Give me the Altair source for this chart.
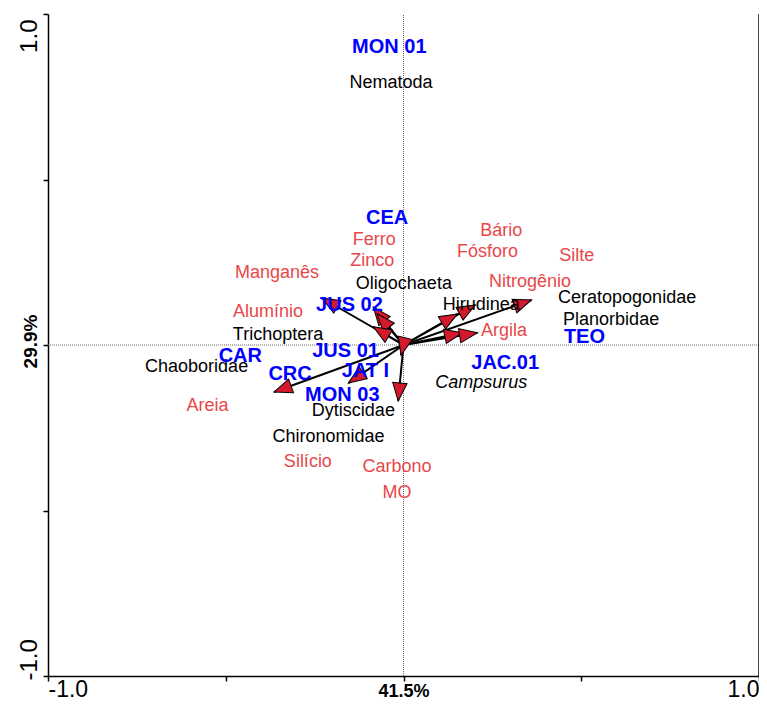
import altair as alt
import pandas as pd
import numpy as np

FONT = "Liberation Sans"

# Sites (blue)
site_names = ["MON 01", "CEA", "JUS 02", "JUS 01", "CAR", "CRC", "JAT I", "MON 03", "JAC.01", "TEO"]
site_x = [-0.040, -0.046, -0.152, -0.163, -0.459, -0.319, -0.107, -0.172, 0.286, 0.509]
site_y = [0.901, 0.385, 0.121, -0.019, -0.034, -0.088, -0.079, -0.151, -0.055, 0.025]

# Species (black)
species_names = ["Nematoda", "Oligochaeta", "Hirudinea", "Ceratopogonidae", "Planorbidae",
                 "Trichoptera", "Chaoboridae", "Dytiscidae", "Chironomidae"]
species_x = [-0.035, 0.001, 0.219, 0.629, 0.584, -0.353, -0.582, -0.141, -0.211]
species_y = [0.791, 0.184, 0.121, 0.142, 0.076, 0.031, -0.067, -0.199, -0.279]

italic_names = ["Campsurus"]
italic_x = [0.219]
italic_y = [-0.115]

# Environmental variables (red labels)
env_names = ["Bário", "Ferro", "Fósforo", "Silte", "Zinco", "Manganês", "Nitrogênio",
             "Alumínio", "Argila", "Areia", "Silício", "Carbono", "MO"]
env_x = [0.275, -0.082, 0.236, 0.487, -0.088, -0.356, 0.356, -0.381, 0.283, -0.551, -0.269, -0.018, -0.018]
env_y = [0.345, 0.318, 0.280, 0.268, 0.253, 0.217, 0.190, 0.100, 0.043, -0.184, -0.354, -0.369, -0.447]

# Arrow tips (environmental vectors)
arrow_x = [-0.230, -0.085, -0.074, -0.085, 0.152, 0.202, 0.360, 0.166, 0.208, -0.364, -0.155, -0.015, -0.007]
arrow_y = [0.142, 0.115, 0.094, 0.055, 0.094, 0.121, 0.136, 0.037, 0.037, -0.142, -0.115, -0.169, -0.031]

W, H = 711, 662

sites = pd.DataFrame({"label": site_names, "x": site_x, "y": site_y})
species = pd.DataFrame({"label": species_names, "x": species_x, "y": species_y})
italic = pd.DataFrame({"label": italic_names, "x": italic_x, "y": italic_y})
env = pd.DataFrame({"label": env_names, "x": env_x, "y": env_y})
arrows = pd.DataFrame({"x0": 0.0, "y0": 0.0, "tx": arrow_x, "ty": arrow_y})
arrows["ang"] = np.degrees(np.arctan2(arrows["tx"] * W / 2, arrows["ty"] * H / 2)) % 360

xs = alt.Scale(domain=[-1, 1], nice=False, zero=False)
ys = alt.Scale(domain=[-1, 1], nice=False, zero=False)

x_axis = alt.Axis(
    values=[-1, -0.5, 0, 0.5, 1], title=None, grid=False,
    domainColor="black", domainWidth=1.5, tickColor="black", tickWidth=1.5, tickSize=5,
    labelExpr="datum.value == 0 ? '41.5%' : (datum.value == -1 ? '-1.0' : (datum.value == 1 ? '1.0' : ''))",
    labelFont=FONT, labelColor="black", labelFlush=True, labelOverlap=False, labelBound=False,
    labelFontSize=alt.condition("datum.value == 0", alt.value(18), alt.value(23)),
    labelFontWeight=alt.condition("datum.value == 0", alt.value("bold"), alt.value("normal")),
    labelBaseline="alphabetic", labelPadding=15,
)

y_axis = alt.Axis(
    values=[-1, -0.5, 0, 0.5, 1], title=None, grid=False,
    domainColor="black", domainWidth=1.5, tickColor="black", tickWidth=1.5, tickSize=5,
    labelExpr="datum.value == 0 ? '29.9%' : (datum.value == -1 ? '-1.0' : (datum.value == 1 ? '1.0' : ''))",
    labelFont=FONT, labelColor="black", labelOverlap=False, labelBound=False,
    labelAngle=270,
    labelFontSize=alt.condition("datum.value == 0", alt.value(19), alt.value(24)),
    labelFontWeight=alt.condition("datum.value == 0", alt.value("bold"), alt.value("normal")),
    labelAlign={"condition": [{"test": "datum.value == -1", "value": "left"},
                              {"test": "datum.value == 1", "value": "right"}],
                "value": "center"},
    labelOffset={"condition": [{"test": "datum.value == -1", "value": 4},
                               {"test": "datum.value == 1", "value": 5}],
                 "value": -4},
    labelBaseline="alphabetic", labelPadding=7,
)


def X(f):
    return alt.X(f, type="quantitative", scale=xs, axis=x_axis)


def Y(f):
    return alt.Y(f, type="quantitative", scale=ys, axis=y_axis)


cross = pd.DataFrame({"x": [0.0, -1.0], "x2": [0.0, 1.0], "y": [-1.0, 0.0], "y2": [1.0, 0.0]})
cross_layer = alt.Chart(cross).mark_rule(color="#666666", strokeWidth=1, strokeDash=[1, 1]).encode(
    x=X("x"), y=Y("y"), x2="x2", y2="y2")

border = pd.DataFrame({"x": [1.0], "y": [-1.0], "y2": [1.0]})
border_layer = alt.Chart(border).mark_rule(color="black", strokeWidth=1.5).encode(
    x=X("x"), y=Y("y"), y2="y2")

line_layer = alt.Chart(arrows).mark_rule(color="black", strokeWidth=2).encode(
    x=X("x0"), y=Y("y0"), x2="tx", y2="ty")

head_layer = alt.Chart(arrows).mark_point(
    shape="M0,0L-0.4,1L0.4,1Z", filled=True, fill="#d21a2c", stroke="black",
    strokeWidth=1, size=1300, opacity=1, fillOpacity=1).encode(
    x=X("tx"), y=Y("ty"), angle=alt.Angle("ang:Q", scale=None))

site_layer = alt.Chart(sites).mark_text(
    font=FONT, fontSize=20, fontWeight="bold", color="#0000ff", align="center", baseline="middle").encode(
    x=X("x"), y=Y("y"), text="label")

species_layer = alt.Chart(species).mark_text(
    font=FONT, fontSize=18, color="black", align="center", baseline="middle").encode(
    x=X("x"), y=Y("y"), text="label")

italic_layer = alt.Chart(italic).mark_text(
    font=FONT, fontSize=18, fontStyle="italic", color="black", align="center", baseline="middle").encode(
    x=X("x"), y=Y("y"), text="label")

env_layer = alt.Chart(env).mark_text(
    font=FONT, fontSize=18, color="#e8474a", align="center", baseline="middle").encode(
    x=X("x"), y=Y("y"), text="label")

chart = alt.layer(
    cross_layer, border_layer, line_layer, head_layer,
    env_layer, species_layer, italic_layer, site_layer,
).properties(
    width=W, height=H, autosize="none",
    padding={"left": 40, "top": 6, "right": 0, "bottom": 24},
).configure_view(stroke=None)

chart.save("out.html", embed_options={"renderer": "svg", "actions": False})
